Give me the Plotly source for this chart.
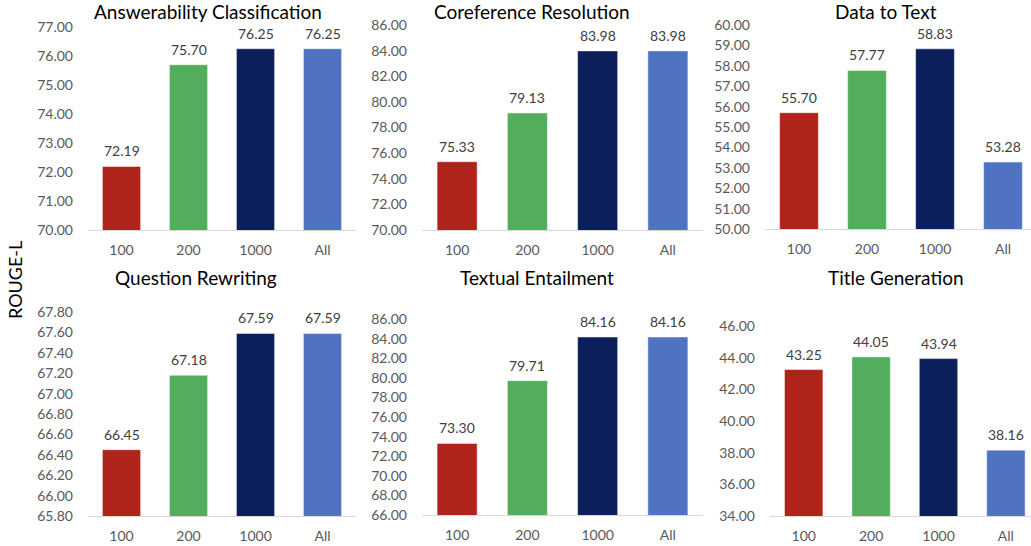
import plotly.graph_objects as go

W, H = 1031, 546

categories = ["100", "200", "1000", "All"]
bar_colors = ["#B0231A", "#52AE5D", "#0B1F5B", "#5073C1"]

titles = ["Answerability Classification", "Coreference Resolution", "Data to Text",
          "Question Rewriting", "Textual Entailment", "Title Generation"]

answerability = [72.19, 75.70, 76.25, 76.25]
coreference = [75.33, 79.13, 83.98, 83.98]
data_to_text = [55.70, 57.77, 58.83, 53.28]
question_rewriting = [66.45, 67.18, 67.59, 67.59]
textual_entailment = [73.30, 79.71, 84.16, 84.16]
title_generation = [43.25, 44.05, 43.94, 38.16]

series = [answerability, coreference, data_to_text,
          question_rewriting, textual_entailment, title_generation]

y_ranges = [(70, 77), (70, 86), (50, 60), (65.8, 67.8), (66, 86), (34, 46)]
y_dticks = [1, 2, 1, 0.2, 2, 2]

# pixel layout: (x0, x1, y_top, y_bottom, x_range_end)
px_layout = [
    (88, 356, 27, 230, 3.5),
    (422, 703, 25, 230, 3.5),
    (765, 1031, 25, 229, -0.5 + (1031 - 765) / 68.0),
    (88, 356, 312, 516, 3.5),
    (422, 703, 319, 515, 3.5),
    (770, 1031, 326, 516, -0.5 + (1031 - 770) / 67.4),
]
title_pos = [(208, 11), (532, 11), (886, 11), (196, 277), (537, 277), (896, 277)]

FONT = "Lato"
fig = go.Figure()
annotations = []

for i, (vals, (x0, x1, yt, yb, xr_end)) in enumerate(zip(series, px_layout)):
    n = "" if i == 0 else str(i + 1)
    xa, ya = "x" + n, "y" + n
    fig.add_trace(go.Bar(
        x=list(range(len(categories))), y=vals, xaxis=xa, yaxis=ya,
        marker=dict(color=bar_colors, line=dict(width=0.8, color="rgba(255,255,255,0.6)")),
        width=0.57, showlegend=False, hoverinfo="skip",
    ))
    for j, v in enumerate(vals):
        annotations.append(dict(
            x=j, y=v, xref=xa, yref=ya, text=f"{v:.2f}", showarrow=False,
            yanchor="bottom", yshift=5,
            font=dict(family=FONT, size=14, color="#404040"),
        ))
    fig.layout["xaxis" + n] = dict(
        domain=[x0 / W, x1 / W], anchor=ya, automargin=False,
        range=[-0.5, xr_end], tickmode="array",
        tickvals=list(range(len(categories))), ticktext=categories,
        showline=True, linecolor="#D9D9D9", linewidth=1,
        showgrid=False, zeroline=False, ticks="",
        ticklabelstandoff=7,
        tickfont=dict(family=FONT, size=14, color="#595959"),
    )
    fig.layout["yaxis" + n] = dict(
        domain=[1 - yb / H, 1 - yt / H], anchor=xa, automargin=False,
        range=list(y_ranges[i]), dtick=y_dticks[i], tick0=y_ranges[i][0],
        tickformat=".2f", showline=False, showgrid=False, zeroline=False,
        ticks="", ticklabelstandoff=14,
        tickfont=dict(family=FONT, size=14, color="#595959"),
    )
    tx, ty = title_pos[i]
    annotations.append(dict(
        x=tx / W, y=1 - ty / H, xref="paper", yref="paper", text=titles[i],
        showarrow=False, xanchor="center", yanchor="middle",
        font=dict(family=FONT, size=19, color="#000000"),
    ))

annotations.append(dict(
    x=15 / W, y=1 - 280 / H, xref="paper", yref="paper", text="ROUGE-L",
    showarrow=False, textangle=-90, xanchor="center", yanchor="middle",
    font=dict(family=FONT, size=18, color="#000000"),
))

fig.update_layout(
    template="none",
    width=W, height=H, margin=dict(l=0, r=0, t=0, b=0, autoexpand=False),
    paper_bgcolor="white", plot_bgcolor="white",
    annotations=annotations, bargap=0.43,
)

fig.write_html(
    "out.html",
    config={"displayModeBar": False},
    post_script="document.body.style.margin='0';document.body.style.padding='0';"
                "document.body.style.overflow='hidden';"
                "document.documentElement.style.overflow='hidden';",
)
